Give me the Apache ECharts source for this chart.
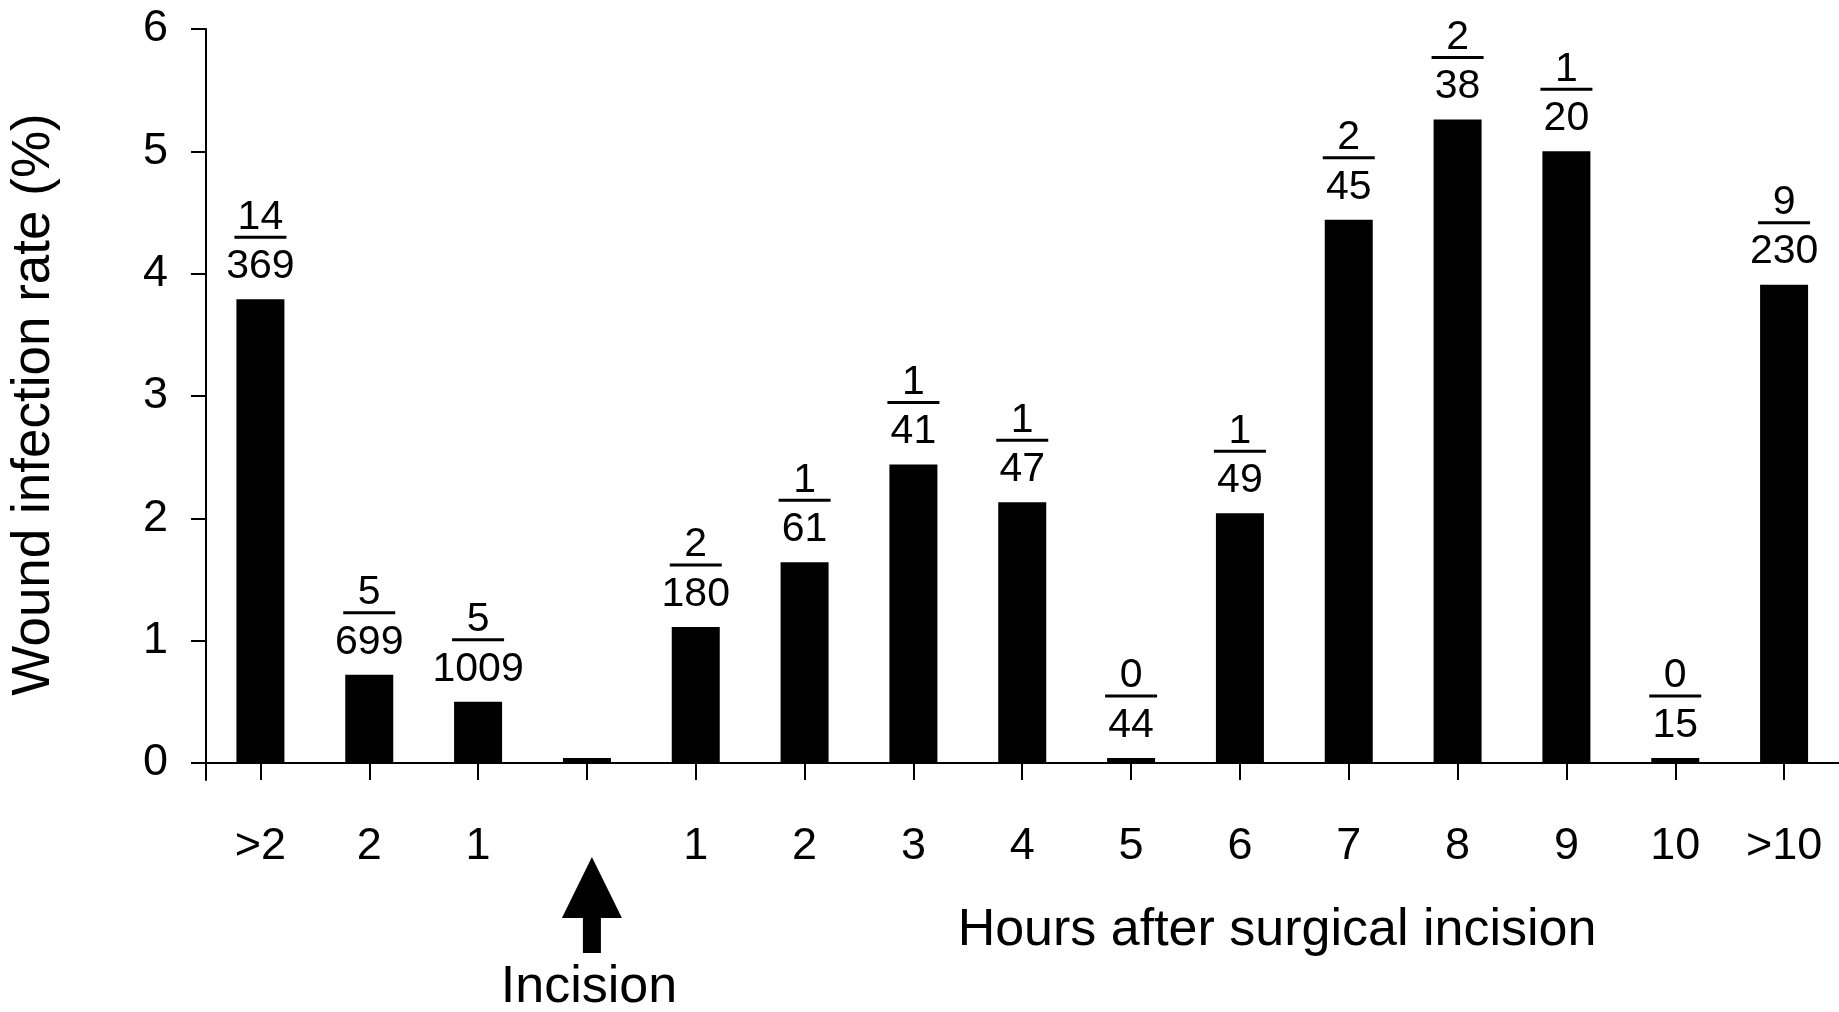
<!DOCTYPE html>
<html><head><meta charset="utf-8">
<script src="https://cdn.jsdelivr.net/npm/echarts@6/dist/echarts.min.js"></script>
<style>html,body{margin:0;padding:0;background:#fff}#c{width:1839px;height:1012px}</style>
</head><body><div id="c"></div>
<script>
// ---- data ----
const categories = ['>2', '2', '1', '', '1', '2', '3', '4', '5', '6', '7', '8', '9', '10', '>10'];
const rates = [3.79, 0.72, 0.50, 0, 1.11, 1.64, 2.44, 2.13, 0, 2.04, 4.44, 5.26, 5.00, 0, 3.91];
const infected = [14, 5, 5, null, 2, 1, 1, 1, 0, 1, 2, 2, 1, 0, 9];
const patients = [369, 699, 1009, null, 180, 61, 41, 47, 44, 49, 45, 38, 20, 15, 230];
const yTicks = [0, 1, 2, 3, 4, 5, 6];
const yTitle = 'Wound infection rate (%)';
const xTitle = 'Hours after surgical incision';
const incisionText = 'Incision';
const incisionIndex = 3;

// ---- chart ----
const FONT = '"Liberation Sans", Arial, Helvetica, sans-serif';
const chart = echarts.init(document.getElementById('c'), null, {renderer: 'canvas'});
chart.setOption({
  backgroundColor: '#fff',
  animation: false,
  grid: {left: 202, right: 0.5, top: 29, bottom: 232, containLabel: false},
  xAxis: {
    type: 'category',
    data: categories,
    axisLine: {show: true, onZero: true, lineStyle: {color: '#000', width: 2}},
    axisTick: {show: true, alignWithLabel: true, length: 17, lineStyle: {color: '#000', width: 2}},
    axisLabel: {color: '#000', fontSize: 45, fontFamily: FONT, margin: 44, interval: 0},
    splitLine: {show: false}
  },
  yAxis: {
    type: 'value',
    min: -0.14,
    max: 6,
    name: yTitle,
    nameLocation: 'middle',
    nameGap: 145,
    nameTextStyle: {color: '#000', fontSize: 53, fontFamily: FONT},
    axisLine: {show: true, lineStyle: {color: '#000', width: 2}},
    axisTick: {show: true, length: 15, customValues: yTicks, lineStyle: {color: '#000', width: 2}},
    axisLabel: {color: '#000', fontSize: 45, fontFamily: FONT, margin: 38, customValues: yTicks},
    splitLine: {show: false}
  },
  series: [{
    type: 'bar',
    data: rates,
    barWidth: 48,
    barMinHeight: 5,
    itemStyle: {color: '#000'},
    label: {
      show: true,
      position: 'top',
      distance: 8,
      fontSize: 41,
      fontFamily: FONT,
      color: '#000',
      formatter: function (p) {
        const i = p.dataIndex;
        if (infected[i] === null) return '';
        return '{n|' + infected[i] + '}\n{l| }\n{d|' + patients[i] + '}';
      },
      rich: {
        n: {fontSize: 41, fontFamily: FONT, color: '#000', lineHeight: 30},
        l: {width: 52, height: 3, lineHeight: 10, backgroundColor: '#000'},
        d: {fontSize: 41, fontFamily: FONT, color: '#000', lineHeight: 49}
      }
    }
  }]
});

const cx = chart.convertToPixel({xAxisIndex: 0}, incisionIndex);
const c = cx + 5;
chart.setOption({
  graphic: [
    {type: 'polygon', shape: {points: [[c, 857], [c + 30, 918], [c + 9, 918], [c + 9, 953], [c - 9, 953], [c - 9, 918], [c - 30, 918]]}, style: {fill: '#000'}},
    {type: 'text', x: cx + 2, y: 988, style: {text: incisionText, fontSize: 52, fontFamily: FONT, fill: '#000', align: 'center', verticalAlign: 'middle'}},
    {type: 'text', x: 1277, y: 931, style: {text: xTitle, fontSize: 52, fontFamily: FONT, fill: '#000', align: 'center', verticalAlign: 'middle'}}
  ]
});
</script></body></html>
